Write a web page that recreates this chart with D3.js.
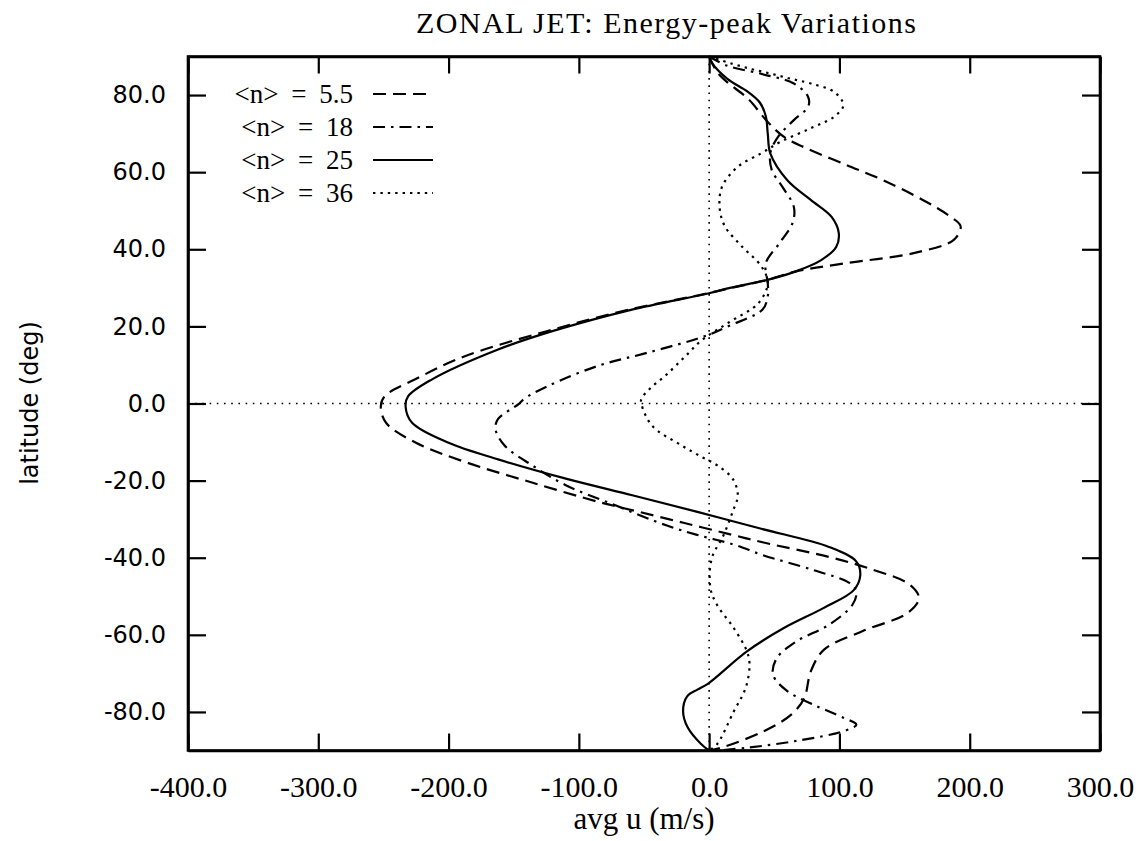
<!DOCTYPE html>
<html>
<head>
<meta charset="utf-8">
<script src="https://cdn.jsdelivr.net/npm/d3@7"></script>
<style>
  html, body { margin: 0; padding: 0; background: #fff; }
  svg { display: block; }
</style>
</head>
<body>
<svg id="chart" width="1143" height="841"></svg>
<script>
// ---------------- data ----------------
const chartTitle = "ZONAL  JET:  Energy-peak Variations";
const xLabel = "avg u (m/s)";
const yLabel = "latitude (deg)";
const xTicks = [-400, -300, -200, -100, 0, 100, 200, 300];
const yTicks = [-80, -60, -40, -20, 0, 20, 40, 60, 80];
const seriesNames = ["<n> = 5.5", "<n> = 18", "<n> = 25", "<n> = 36"];

// <n> = 5.5 (dashed)
const lat55 = [90, 86, 83.3, 79, 73, 69, 66.3, 61.9, 58, 52.8, 48.5, 46, 42.5, 39, 36.4, 34.2, 32, 30, 28.5, 24.3, 18.8, 12.2, 6.2, 1.9, -0.7, -5, -10.2, -15.2, -20.5, -25.6, -28, -31, -34, -36, -39.8, -42.8, -47, -50.5, -54.4, -59, -63.9, -69.5, -76.4, -80.7, -85, -89.3, -90];
const u55   = [0, 6, 14, 30, 45, 58, 74, 105, 133, 164, 185, 193, 188, 157, 105, 66, 44, 17, -2, -62, -124, -188, -226, -249, -252, -248, -225, -187, -136, -84, -55, -19, 17, 41, 92, 123, 154, 161, 152, 118, 88, 78, 73, 63, 42, 9, 0];

// <n> = 18 (dash-dot)
const lat18 = [90, 87.6, 85.5, 83, 79.5, 77, 73.5, 69.2, 65, 60.6, 56.3, 51, 46.8, 41.6, 36.4, 31.2, 27.8, 24.4, 20.1, 17.5, 13.2, 9.8, 4.5, 1.2, -0.1, -4, -6.6, -10.9, -16, -21.2, -26.4, -31.6, -34, -36.7, -39.3, -43.2, -46.6, -48.8, -52.2, -57.4, -61.7, -66, -70.3, -74.6, -78.1, -81.5, -83.3, -85, -87.5, -89.3, -90];
const u18   = [0, 14, 40, 65, 76, 76, 65, 53, 47, 48, 56, 65, 64, 54, 43.5, 45, 45, 41, 15, -3, -47, -85, -124, -142, -146, -162, -164, -157, -136, -110, -72, -33, -10, 20, 41, 80, 108, 113, 110, 92, 67, 52, 49, 60, 80, 103, 113, 103, 67, 29, 6];

// <n> = 25 (solid)
const lat25 = [90, 88.4, 84.2, 81, 78, 74.5, 70, 64.8, 57.9, 52.8, 48.4, 44.2, 40.6, 37.2, 34.2, 32, 30, 28.6, 24.3, 18.7, 14, 6.2, 1.9, -0.7, -5, -10.2, -14.5, -19.5, -23.8, -28.1, -32.5, -37.2, -41, -44.5, -48.4, -53, -58.3, -64.3, -72.7, -74.2, -76, -79.8, -84, -88.4, -90];
const u25   = [0, 2, 14, 29, 39, 43.5, 45, 47, 60, 78, 94, 99.5, 97.5, 86, 66, 44, 16, 0, -60, -121, -162, -213, -231, -233, -228, -200, -162, -110, -59, -9, 40, 92, 113, 116, 111, 88, 57, 29, -1, -9, -17, -20, -16.5, -6, 0];

// <n> = 36 (dotted)
const lat36 = [90, 88.2, 86.7, 85.5, 84.2, 83, 80.8, 77.4, 74.4, 71.4, 67.9, 64.9, 61.4, 56.3, 51, 46, 40.8, 35.6, 31.3, 26.1, 21, 16.6, 12, 7.1, 4, 1.2, -0.1, -5.7, -10.9, -14, -16, -19.5, -23.8, -28.1, -34.2, -40.2, -47.9, -52.2, -58.3, -64.3, -67.7, -73.8, -79.8, -88.4, -90];
const u36   = [0, 17, 33, 48, 63, 78, 96, 103, 96, 78, 55, 40, 22, 10, 8, 12, 25, 40, 45, 38, 15, -5, -19, -34, -45, -52, -52, -44, -21, -5, 6, 18, 22, 18, 11, 2, 1, 6, 19, 29, 31, 28, 19, 6, 0];

// ---------------- drawing ----------------
const svg = d3.select("#chart");
const serif = "'Liberation Serif', 'Times New Roman', serif";
const sans = "'DejaVu Sans', 'Liberation Sans', sans-serif";

const x = d3.scaleLinear().domain([-400, 300]).range([188, 1100]);
const y = d3.scaleLinear().domain([-90, 90]).range([750.5, 56.5]);

// zero reference lines
svg.append("line")
  .attr("x1", x(-400)).attr("x2", x(300)).attr("y1", y(0)).attr("y2", y(0))
  .attr("stroke", "#000").attr("stroke-width", 1.6).attr("stroke-dasharray", "1.6,5.6");
svg.append("line")
  .attr("x1", x(0)).attr("x2", x(0)).attr("y1", y(90)).attr("y2", y(-90))
  .attr("stroke", "#000").attr("stroke-width", 1.6).attr("stroke-dasharray", "1.6,5.6");

// curves
const series = [
  { name: seriesNames[0], lat: lat55, u: u55, dash: "13,7" },
  { name: seriesNames[1], lat: lat18, u: u18, dash: "12,6,2.5,6" },
  { name: seriesNames[2], lat: lat25, u: u25, dash: null },
  { name: seriesNames[3], lat: lat36, u: u36, dash: "2.4,5" }
];

const line = d3.line()
  .x(d => x(d[0]))
  .y(d => y(d[1]))
  .curve(d3.curveCatmullRom.alpha(0.5));

series.forEach(s => {
  const pts = d3.zip(s.u, s.lat);
  svg.append("path")
    .attr("d", line(pts))
    .attr("fill", "none")
    .attr("stroke", "#000")
    .attr("stroke-width", 2.2)
    .attr("stroke-dasharray", s.dash);
});

// axes (inward ticks)
const fmt = v => d3.format(".1f")(v).replace("\u2212", "-");
const gB = svg.append("g").attr("transform", `translate(0,${y(-90)})`)
  .call(d3.axisBottom(x).tickValues(xTicks).tickFormat(fmt).tickSizeInner(-17).tickSizeOuter(0).tickPadding(25));
const gT = svg.append("g").attr("transform", `translate(0,${y(90)})`)
  .call(d3.axisTop(x).tickValues(xTicks).tickFormat("").tickSizeInner(-17).tickSizeOuter(0));
const gL = svg.append("g").attr("transform", `translate(${x(-400)},0)`)
  .call(d3.axisLeft(y).tickValues(yTicks).tickFormat(fmt).tickSizeInner(-18).tickSizeOuter(0).tickPadding(22));
const gR = svg.append("g").attr("transform", `translate(${x(300)},0)`)
  .call(d3.axisRight(y).tickValues(yTicks).tickFormat("").tickSizeInner(-18).tickSizeOuter(0));

[gB, gT, gL, gR].forEach(g => {
  g.select(".domain").attr("stroke", "#000").attr("stroke-width", 2.6);
  g.selectAll(".tick line").attr("stroke", "#000").attr("stroke-width", 2.2);
});
gB.selectAll(".tick text").attr("font-family", serif).attr("font-size", 30).attr("fill", "#000");
gL.selectAll(".tick text").attr("font-family", sans).attr("font-size", 24).attr("fill", "#000");

// frame
svg.append("rect")
  .attr("x", x(-400)).attr("y", y(90))
  .attr("width", x(300) - x(-400)).attr("height", y(-90) - y(90))
  .attr("fill", "none").attr("stroke", "#000").attr("stroke-width", 2.6);

// title & axis labels
svg.append("text")
  .attr("x", 666).attr("y", 33)
  .attr("text-anchor", "middle")
  .attr("font-family", serif).attr("font-size", 30)
  .attr("textLength", 500).attr("lengthAdjust", "spacing")
  .text(chartTitle);

svg.append("text")
  .attr("x", 644).attr("y", 829)
  .attr("text-anchor", "middle")
  .attr("font-family", serif).attr("font-size", 31)
  .text(xLabel);

svg.append("text")
  .attr("transform", "translate(38,403) rotate(-90)")
  .attr("text-anchor", "middle")
  .attr("font-family", sans).attr("font-size", 24)
  .text(yLabel);

// legend
const legendY = [94, 127, 160, 193];
series.forEach((s, i) => {
  svg.append("text")
    .attr("x", 353).attr("y", legendY[i] + 9)
    .attr("text-anchor", "end")
    .attr("font-family", serif).attr("font-size", 27)
    .attr("word-spacing", 6)
    .text(s.name);
  svg.append("line")
    .attr("x1", 373).attr("x2", 433)
    .attr("y1", legendY[i]).attr("y2", legendY[i])
    .attr("stroke", "#000").attr("stroke-width", 2.2)
    .attr("stroke-dasharray", s.dash);
});
</script>
</body>
</html>
